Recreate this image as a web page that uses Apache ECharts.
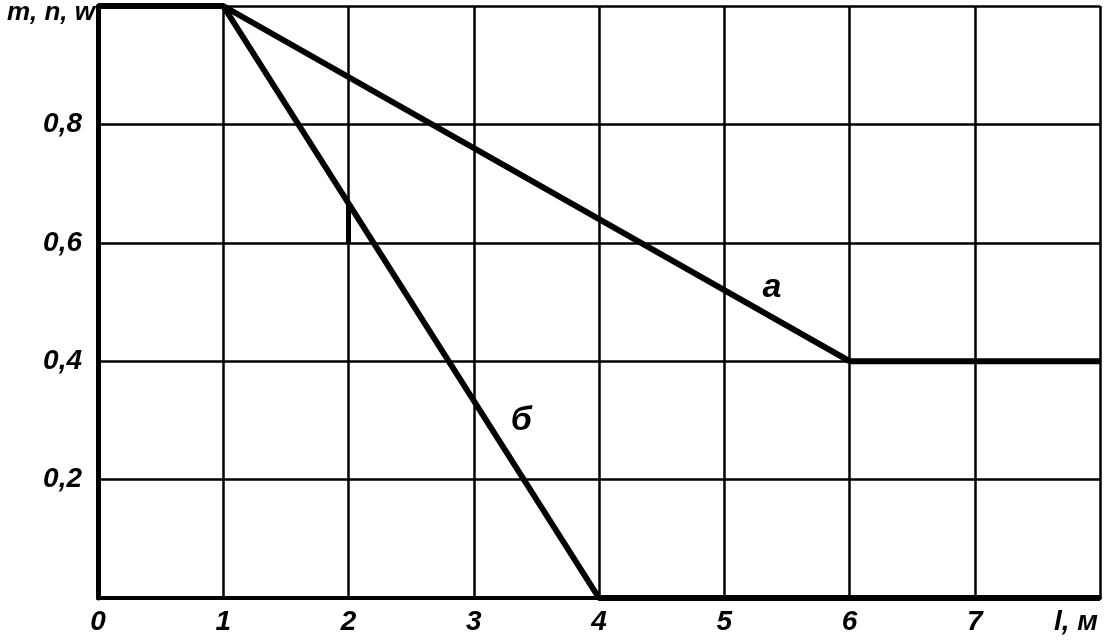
<!DOCTYPE html>
<html>
<head>
<meta charset="utf-8">
<script src="https://cdn.jsdelivr.net/npm/echarts@6/dist/echarts.min.js"></script>
<style>html,body{margin:0;padding:0;background:#fff}#c{width:1105px;height:641px}</style>
</head>
<body>
<div id="c"></div>
<script>
// Data
const xTickLabels = ['0', '1', '2', '3', '4', '5', '6', '7', ''];
const yTickLabels = ['', '0,2', '0,4', '0,6', '0,8', ''];
const xName = 'l, м';
const yName = 'm, n, w';

const curveAx = [0, 1, 6, 8];
const curveAy = [1, 1, 0.4, 0.4];
const curveBx = [1, 4, 8];
const curveBy = [1, 0, 0];
const stubX = [2, 2];
const stubY = [0.6, 0.667];

const curveLabels = ['а', 'б'];
const curveLabelX = [5.38, 3.38];
const curveLabelY = [0.525, 0.30];

const pairs = (xs, ys) => xs.map((x, i) => [x, ys[i]]);
const FONT = '"Liberation Sans", "DejaVu Sans", sans-serif';
const txt = (size) => ({fontFamily: FONT, fontStyle: 'italic', fontWeight: 'bold', fontSize: size, color: '#000'});

const chart = echarts.init(document.getElementById('c'), null, {renderer: 'canvas'});
chart.setOption({
  animation: false,
  backgroundColor: '#fff',
  grid: {left: 98, right: 5, top: 5, bottom: 43, containLabel: false},
  xAxis: {
    type: 'value', min: 0, max: 8, interval: 1,
    name: xName, nameLocation: 'end', nameGap: 0,
    nameTextStyle: Object.assign(txt(28), {align: 'right', verticalAlign: 'top', padding: [10, 2, 0, 0]}),
    axisLine: {show: true, onZero: false, lineStyle: {color: '#000', width: 4}},
    axisTick: {show: false},
    axisLabel: Object.assign(txt(28), {margin: 10,
      formatter: v => xTickLabels[Math.round(v)] ?? ''}),
    splitLine: {show: true, lineStyle: {color: '#000', width: 2.5}}
  },
  yAxis: {
    type: 'value', min: 0, max: 1, interval: 0.2,
    name: yName, nameLocation: 'end', nameGap: -7,
    nameTextStyle: Object.assign(txt(26), {align: 'right', verticalAlign: 'middle', padding: [0, 3, 0, 0]}),
    axisLine: {show: true, onZero: false, lineStyle: {color: '#000', width: 5}},
    axisTick: {show: false},
    axisLabel: Object.assign(txt(28), {margin: 16,
      formatter: v => yTickLabels[Math.round(v / 0.2)] ?? ''}),
    splitLine: {show: true, lineStyle: {color: '#000', width: 2.5}}
  },
  series: [
    {type: 'line', data: pairs(curveAx, curveAy), symbol: 'none', clip: false,
      lineStyle: {color: '#000', width: 6}},
    {type: 'line', data: pairs(curveBx, curveBy), symbol: 'none', clip: false,
      lineStyle: {color: '#000', width: 6}},
    {type: 'line', data: pairs(stubX, stubY), symbol: 'none', clip: false,
      lineStyle: {color: '#000', width: 5}},
    {type: 'scatter', symbolSize: 0, silent: true,
      itemStyle: {color: '#000', opacity: 1},
      data: curveLabels.map((t, i) => ({value: [curveLabelX[i], curveLabelY[i]], name: t})),
      label: Object.assign(txt(34), {show: true, position: 'inside', opacity: 1,
        textBorderWidth: 0, formatter: p => p.name})}
  ]
});
</script>
</body>
</html>
